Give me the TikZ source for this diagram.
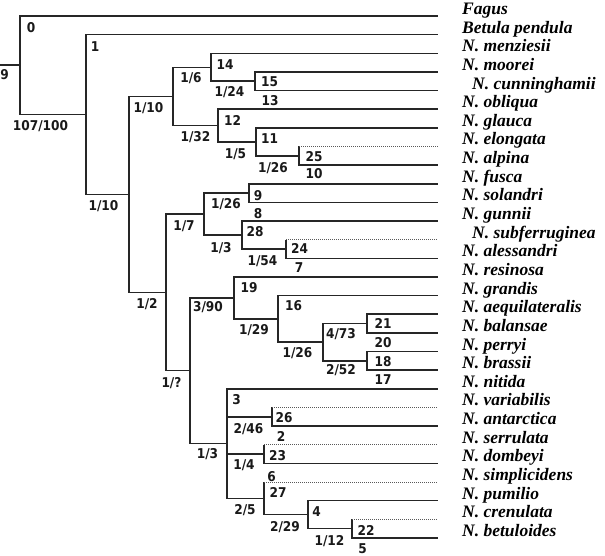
\documentclass[tikz,border=0pt]{standalone}
\usepackage{fontspec}
\setmainfont{Liberation Serif}
\newfontfamily\numfont[FakeStretch=0.9]{DejaVu Sans}
\begin{document}
\begin{tikzpicture}[x=1pt,y=-1pt,
  br/.style={line width=1.5pt, black!85},
  dt/.style={line width=1pt, black!65, dash pattern=on 1pt off 1pt},
  num/.style={font=\numfont\bfseries\fontsize{13.5}{13.5}\selectfont, inner sep=0pt, text height=9.8pt, text depth=0pt, black!90},
  leaf/.style={font=\bfseries\itshape\fontsize{17.5}{17.5}\selectfont, inner sep=0pt, anchor=base west}]
\useasboundingbox (0,0) rectangle (605,556);
% leaf ends
\foreach \i in {1,...,29} \coordinate (e\i) at (438,{16+(\i-1)*18.64});
% leaf names
\foreach \i/\t in {1/Fagus,2/Betula pendula,3/N. menziesii,4/N. moorei,6/N. obliqua,7/N. glauca,8/N. elongata,9/N. alpina,10/N. fusca,11/N. solandri,12/N. gunnii,14/N. alessandri,15/N. resinosa,16/N. grandis,17/N. aequilateralis,18/N. balansae,19/N. perryi,20/N. brassii,21/N. nitida,22/N. variabilis,23/N. antarctica,24/N. serrulata,25/N. dombeyi,26/N. simplicidens,27/N. pumilio,28/N. crenulata,29/N. betuloides}
  \node[leaf] (t\i) at (462,{16+(\i-1)*18.64-1.5}) {\t};
\node[leaf] (t5) at (472,{16+4*18.64-1.5}) {N. cunninghamii};
\node[leaf] (t13) at (472,{16+12*18.64-1.5}) {N. subferruginea};
% internal nodes
\coordinate (r) at (0,65.25);
\coordinate (n0) at (20,65.25);
\coordinate (n1) at (86,114.5);
\coordinate (nE) at (129,194.39);
\coordinate (nF) at (173,96.385);
\coordinate (n14) at (211,67.26);
\coordinate (n15) at (255,81.24);
\coordinate (n12) at (218,125.51);
\coordinate (n11) at (256,141.82);
\coordinate (n25) at (299,155.8);
\coordinate (nD) at (166,292.4);
\coordinate (nA) at (204,214.05);
\coordinate (n9) at (249,193.08);
\coordinate (n28) at (242,235.02);
\coordinate (n24) at (286,249);
\coordinate (nC) at (190,370.74);
\coordinate (n19) at (234,297.93);
\coordinate (n16) at (278,318.9);
\coordinate (nB) at (323,342.2);
\coordinate (n21) at (367,323.56);
\coordinate (n18) at (367,360.84);
\coordinate (n3) at (227,443.555);
\coordinate (n26) at (272,416.76);
\coordinate (n23) at (264,454.04);
\coordinate (n27) at (264,498.31);
\coordinate (n4) at (308,514.62);
\coordinate (n22) at (352,528.6);
% solid branches
\draw[br] (r) -- (n0);
\foreach \p/\c in {n0/e1,n0/n1,n1/e2,n1/nE,nE/nF,nE/nD,nF/n14,nF/n12,n14/e3,n14/n15,n15/e4,n15/e5,n12/e6,n12/n11,n11/e7,n11/n25,n25/e9,
  nD/nA,nD/nC,nA/n9,nA/n28,n9/e10,n9/e11,n28/e12,n28/n24,n24/e14,
  nC/n19,nC/n3,n19/e15,n19/n16,n16/e16,n16/nB,nB/n21,nB/n18,n21/e17,n21/e18,n18/e19,n18/e20,
  n3/e21,n3/n26,n3/n23,n3/n27,n26/e23,n23/e25,n27/n4,n4/e27,n4/n22,n22/e29}
  \draw[br] (\p) |- (\c);
% dotted branches
\foreach \p/\c in {n25/e8,n24/e13,n26/e22,n23/e24,n27/e26,n22/e28}{
  \draw[br] (\p) -- (\p |- \c);
  \draw[dt] (\p |- \c) -- (\c);
}
% branch labels
\node[num,anchor=west] (l9) at (0.3,75) {9};
\node[num] (l0) at (31,27.5) {0};
\node[num] (l107) at (40.5,125.5) {107/100};
\node[num] (l1) at (95,47) {1};
\node[num] (l1b) at (103.5,205.5) {1/10};
\node[num] (lE) at (148.5,107.5) {1/10};
\node[num] (lEb) at (147,304) {1/2};
\node[num] (lF) at (191,78) {1/6};
\node[num] (lFb) at (195.5,136.5) {1/32};
\node[num] (l14) at (225,64.5) {14};
\node[num] (l14b) at (229.5,92) {1/24};
\node[num] (l15) at (269.5,81.5) {15};
\node[num] (l13) at (270,101) {13};
\node[num] (l12) at (232.5,121) {12};
\node[num] (l12b) at (235.5,154) {1/5};
\node[num] (l11) at (269.5,139) {11};
\node[num] (l11b) at (273,167.5) {1/26};
\node[num] (l25) at (314,156.5) {25};
\node[num] (l10) at (314,174) {10};
\node[num] (lD) at (184,225.5) {1/7};
\node[num] (lDb) at (171.5,382.5) {1/?};
\node[num] (lA) at (226,204) {1/26};
\node[num] (lAb) at (221,247.5) {1/3};
\node[num] (lN9) at (258,195.5) {9};
\node[num] (l8) at (258,213.5) {8};
\node[num] (l28) at (255,232) {28};
\node[num] (l28b) at (262.5,260.5) {1/54};
\node[num] (l24) at (299.5,249) {24};
\node[num] (l7) at (299,268) {7};
\node[num] (lC) at (208,306.5) {3/90};
\node[num] (lCb) at (207.5,454) {1/3};
\node[num] (l19) at (249,287.5) {19};
\node[num] (l19b) at (254,329.5) {1/29};
\node[num] (l16) at (293.5,306) {16};
\node[num] (l16b) at (297.5,353) {1/26};
\node[num] (lB) at (341,334) {4/73};
\node[num] (lBb) at (341,370) {2/52};
\node[num] (l21) at (383,323.5) {21};
\node[num] (l20) at (383,342.5) {20};
\node[num] (l18) at (383,361.5) {18};
\node[num] (l17) at (383,379.5) {17};
\node[num] (l3) at (236.5,400) {3};
\node[num] (l3b) at (248.5,428.5) {2/46};
\node[num] (l3c) at (244,465) {1/4};
\node[num] (l3d) at (245,509.5) {2/5};
\node[num] (l26) at (284,417.5) {26};
\node[num] (l2) at (281,437) {2};
\node[num] (l23) at (277.5,456) {23};
\node[num] (l6) at (271.5,477) {6};
\node[num] (l27) at (278,493) {27};
\node[num] (l27b) at (285,526.5) {2/29};
\node[num] (l4) at (316.5,512) {4};
\node[num] (l4b) at (329.5,541) {1/12};
\node[num] (l22) at (366,531) {22};
\node[num] (l5) at (362.5,549) {5};
\end{tikzpicture}
\end{document}
